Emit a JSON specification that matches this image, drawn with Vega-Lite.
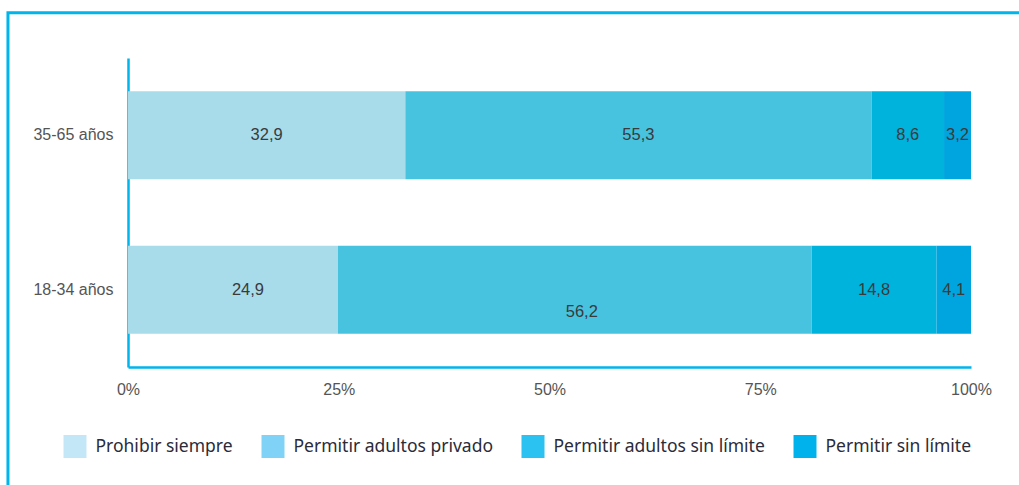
{
  "$schema": "https://vega.github.io/schema/vega-lite/v6.json",
  "padding": {"left": 6, "top": 11, "right": 0, "bottom": 0},
  "background": "white",
  "width": 843,
  "height": 309,
  "config": {
    "view": {"stroke": null},
    "font": "Liberation Sans",
    "scale": {"bandPaddingInner": 0.43, "bandPaddingOuter": 0.215},
    "locale": {"number": {"decimal": ",", "thousands": ".", "grouping": [3], "currency": ["", " €"]}}
  },
  "layer": [
    {
      "data": {"values": [{}]},
      "mark": {"type": "rect", "filled": false, "stroke": "#00b4ec", "strokeWidth": 3, "clip": false},
      "encoding": {
        "x": {"datum": -14.24, "type": "quantitative", "scale": {"domain": [0, 100], "nice": false, "zero": false}, "axis": null},
        "x2": {"datum": 130},
        "y": {"datum": 1.1463, "type": "quantitative", "scale": {"domain": [0, 1], "nice": false, "zero": false}, "axis": null},
        "y2": {"datum": -1}
      }
    },
    {
      "data": {"values": [
        {"age": "35-65 años", "cat": "Prohibir siempre", "k": 1, "value": 32.9},
        {"age": "35-65 años", "cat": "Permitir adultos privado", "k": 2, "value": 55.3},
        {"age": "35-65 años", "cat": "Permitir adultos sin límite", "k": 3, "value": 8.6},
        {"age": "35-65 años", "cat": "Permitir sin límite", "k": 4, "value": 3.2},
        {"age": "18-34 años", "cat": "Prohibir siempre", "k": 1, "value": 24.9},
        {"age": "18-34 años", "cat": "Permitir adultos privado", "k": 2, "value": 56.2},
        {"age": "18-34 años", "cat": "Permitir adultos sin límite", "k": 3, "value": 14.8},
        {"age": "18-34 años", "cat": "Permitir sin límite", "k": 4, "value": 4.1}
      ]},
      "transform": [
        {"stack": "value", "groupby": ["age"], "sort": [{"field": "k", "order": "ascending"}], "as": ["v0", "v1"]},
        {"calculate": "(datum.v0 + datum.v1) / 2", "as": "mid"}
      ],
      "layer": [
        {
          "mark": {"type": "bar"},
          "encoding": {
            "y": {"field": "age", "type": "nominal", "sort": ["35-65 años", "18-34 años"],
              "axis": {"title": null, "ticks": false, "domainColor": "#00b4ec", "domainWidth": 2.5, "labelFont": "Liberation Sans", "labelFontSize": 16, "labelColor": "#555555", "labelPadding": 15}},
            "x": {"field": "v0", "type": "quantitative", "scale": {"domain": [0, 100], "nice": false},
              "axis": {"values": [0, 25, 50, 75, 100], "labelExpr": "datum.value + '%'", "labelFlush": false, "title": null, "ticks": false, "grid": false, "domainColor": "#00b4ec", "domainWidth": 2.5, "labelFont": "Liberation Sans", "labelFontSize": 16, "labelColor": "#555555", "labelPadding": 14}},
            "x2": {"field": "v1"},
            "color": {"field": "cat", "type": "nominal",
              "scale": {"domain": ["Prohibir siempre", "Permitir adultos privado", "Permitir adultos sin límite", "Permitir sin límite"], "range": ["#a9dcea", "#47c3e0", "#00b3dc", "#00a5df"]},
              "legend": null}
          }
        },
        {
          "mark": {"type": "square", "opacity": 0},
          "encoding": {
            "y": {"field": "age", "type": "nominal", "sort": ["35-65 años", "18-34 años"]},
            "x": {"field": "v1", "type": "quantitative"},
            "color": {"field": "cat", "type": "nominal",
              "scale": {"domain": ["Prohibir siempre", "Permitir adultos privado", "Permitir adultos sin límite", "Permitir sin límite"], "range": ["#c4e7f8", "#80d3f7", "#2bc1f1", "#00b2ec"]},
              "legend": {"title": null, "orient": "none", "legendX": -64.5, "legendY": 377, "direction": "horizontal", "columns": 4, "columnPadding": 28, "symbolType": "square", "symbolSize": 529, "symbolOpacity": 1, "symbolStrokeWidth": 0, "labelOffset": 9, "labelFont": "Noto Sans", "labelFontSize": 17.5, "labelColor": "#2b2b3a", "labelLimit": 400}}
          }
        },
        {
          "transform": [{"filter": "!((datum.age == '18-34 años') && (datum.k == 1 || datum.k == 2))"}],
          "mark": {"type": "text", "font": "Liberation Sans", "fontSize": 16.5, "color": "#3a3a3a"},
          "encoding": {
            "y": {"field": "age", "type": "nominal", "sort": ["35-65 años", "18-34 años"]},
            "x": {"field": "mid", "type": "quantitative"},
            "text": {"field": "value", "type": "quantitative", "format": ".1f"}
          }
        },
        {
          "transform": [{"filter": "datum.age == '18-34 años' && datum.k == 2"}],
          "mark": {"type": "text", "font": "Liberation Sans", "fontSize": 16.5, "color": "#3a3a3a", "dx": 7, "dy": 22},
          "encoding": {
            "y": {"field": "age", "type": "nominal", "sort": ["35-65 años", "18-34 años"]},
            "x": {"field": "mid", "type": "quantitative"},
            "text": {"field": "value", "type": "quantitative", "format": ".1f"}
          }
        },
        {
          "transform": [{"filter": "datum.age == '18-34 años' && datum.k == 1"}],
          "mark": {"type": "text", "font": "Liberation Sans", "fontSize": 16.5, "color": "#3a3a3a", "dx": 15},
          "encoding": {
            "y": {"field": "age", "type": "nominal", "sort": ["35-65 años", "18-34 años"]},
            "x": {"field": "mid", "type": "quantitative"},
            "text": {"field": "value", "type": "quantitative", "format": ".1f"}
          }
        }
      ],
      "resolve": {"scale": {"color": "independent"}}
    }
  ],
  "resolve": {"scale": {"x": "independent", "y": "independent"}}
}
